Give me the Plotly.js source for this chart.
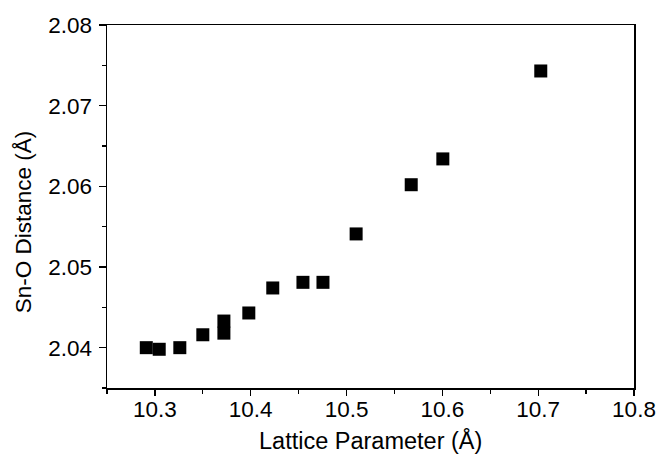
<!DOCTYPE html>
<html>
<head>
<meta charset="utf-8">
<script src="https://cdn.plot.ly/plotly-3.0.1.min.js"></script>
<style>html,body{margin:0;padding:0;background:#fff;}#chart{width:660px;height:456px;}</style>
</head>
<body>
<div id="chart"></div>
<script>
// Lattice parameter (Å) vs Sn-O distance (Å)
var latticeParameter = [10.291, 10.3045, 10.326, 10.350, 10.372, 10.372, 10.398, 10.423, 10.4545, 10.4754, 10.510, 10.5675, 10.6005, 10.7027];
var snODistance = [2.0400, 2.0398, 2.0400, 2.0416, 2.0418, 2.0433, 2.0443, 2.0474, 2.0481, 2.0481, 2.0541, 2.0602, 2.0634, 2.0743];
var xTickValues = [10.3, 10.4, 10.5, 10.6, 10.7, 10.8];
var yTickValues = [2.04, 2.05, 2.06, 2.07, 2.08];
var xTitle = 'Lattice Parameter (Å)';
var yTitle = 'Sn-O Distance (Å)';

var fam = 'Liberation Sans, Arial, sans-serif';

var trace = {
  x: latticeParameter,
  y: snODistance,
  type: 'scatter',
  mode: 'markers',
  marker: {symbol: 'square', size: 13, color: '#000', line: {width: 0}},
  showlegend: false,
  hoverinfo: 'x+y'
};

var layout = {
  width: 660,
  height: 456,
  paper_bgcolor: '#fff',
  plot_bgcolor: '#fff',
  margin: {l: 107, r: 26, t: 25, b: 68},
  font: {family: fam, color: '#000'},
  xaxis: {
    range: [10.25, 10.8],
    tickvals: xTickValues,
    ticktext: xTickValues.map(function (v) { return v.toFixed(1); }),
    ticks: 'outside', ticklen: 6, tickwidth: 1.3, tickcolor: '#000',
    ticklabelstandoff: -6,
    minor: {dtick: 0.05, tick0: 10.25, ticks: 'outside', ticklen: 4, tickwidth: 1.3, tickcolor: '#000'},
    showline: true, linecolor: '#000', linewidth: 1.5, mirror: true,
    showgrid: false, zeroline: false,
    tickfont: {family: fam, size: 22.5, color: '#000'},
    automargin: false
  },
  yaxis: {
    range: [2.035, 2.08],
    tickvals: yTickValues,
    ticktext: yTickValues.map(function (v) { return v.toFixed(2); }),
    ticks: 'outside', ticklen: 7, tickwidth: 1.3, tickcolor: '#000',
    ticklabelstandoff: 2,
    minor: {dtick: 0.005, tick0: 2.035, ticks: 'outside', ticklen: 4, tickwidth: 1.3, tickcolor: '#000'},
    showline: true, linecolor: '#000', linewidth: 1.5, mirror: true,
    showgrid: false, zeroline: false,
    tickfont: {family: fam, size: 22.5, color: '#000'},
    automargin: false
  },
  annotations: [
    {text: xTitle, xref: 'paper', yref: 'paper', x: 0.5, y: -0.146, xanchor: 'center', yanchor: 'middle',
     showarrow: false, font: {family: fam, size: 23.5, color: '#000'}},
    {text: yTitle, xref: 'paper', yref: 'paper', x: -0.159, y: 0.457, xanchor: 'center', yanchor: 'middle',
     textangle: -90, showarrow: false, font: {family: fam, size: 22.5, color: '#000'}}
  ]
};

Plotly.newPlot('chart', [trace], layout, {displayModeBar: false, staticPlot: true});
</script>
</body>
</html>
